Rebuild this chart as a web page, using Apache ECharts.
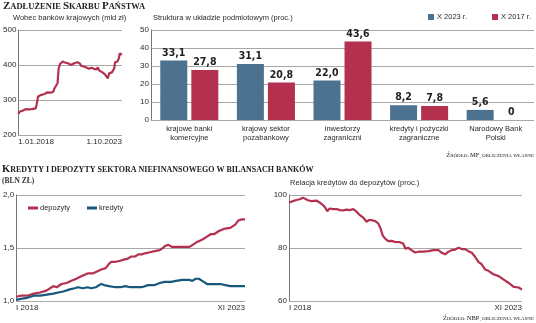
<!DOCTYPE html>
<html><head><meta charset="utf-8">
<script src="https://cdn.jsdelivr.net/npm/echarts@6/dist/echarts.min.js"></script>
<style>html,body{margin:0;padding:0;background:#fff}#c{width:536px;height:323px}</style>
</head><body><div id="c"></div>
<script>
// ---- data: top-left (Wobec banków krajowych, mld zł), x in months since Jan 2018
const debtMonths = [0,1,2.7,3.8,5.2,6.9,9,11.5,12.1,13.2,14.8,17.4,19.4,20.5,21.5,23.2,24,25.3,26.1,26.8,27.8,29.5,30.9,33,35.1,37.2,39.3,40.8,42,44.1,45.6,47,48.7,50.4,51.9,52.9,53.9,56,57.5,58.8,59.6,60.4,62.3,63.8,64.4,65.9,66.9,67.5,69];
const debtValues = [260,267,269,266,274,273,274,276,286,310,314,317,322,326,321,323,333,333,348,390,403,410,407,405,400,405,408,405,397,395,392,389,392,389,387,393,384,379,374,371,362,376,379,390,408,410,419,433,430];
const debtTickLabels = ['1.01.2018','1.10.2023'];

// ---- bar chart: Struktura w układzie podmiotowym (proc.)
const barCategories = ['krajowe banki\nkomercyjne','krajowy sektor\npozabankowy','inwestorzy\nzagraniczni','kredyty i pożyczki\nzagraniczne','Narodowy Bank\nPolski'];
const bar2023 = [33.1,31.1,22.0,8.2,5.6];
const bar2017 = [27.8,20.8,43.6,7.8,0];
const barSeriesNames = ['X 2023 r.','X 2017 r.'];

// ---- bottom-left: Kredyty i depozyty (bln zł)
const depMonths = [0,1.4,3.4,5.4,7.4,9.4,10.4,11.4,12.4,13.9,15.4,16.9,18.4,20.4,21.9,23.4,24.9,26.2,27.4,28.4,29.1,30.4,31.9,32.9,34.2,35.2,36.4,37.4,38.4,39.4,40.9,42.4,43.9,44.9,45.6,46.6,47.6,49.4,51.5,53,54,55.5,57,58.5,59.5,60.5,62,63.5,65.5,67,68,69,70];
const depValues = [1.04,1.05,1.05,1.07,1.08,1.10,1.12,1.14,1.13,1.16,1.17,1.19,1.21,1.24,1.26,1.26,1.28,1.30,1.31,1.35,1.37,1.37,1.38,1.39,1.40,1.42,1.42,1.44,1.44,1.45,1.46,1.47,1.48,1.50,1.52,1.53,1.51,1.51,1.51,1.51,1.53,1.56,1.58,1.61,1.63,1.63,1.66,1.68,1.69,1.72,1.76,1.77,1.77];
const credMonths = [0,1.4,3.4,5.4,7.4,9.4,11.4,12.9,14.4,16.4,17.9,18.9,20.4,21.9,22.9,24.4,25.4,26.1,26.9,28.4,30.4,31.9,33.4,34.9,36.4,38.4,40.4,42.4,43.9,45.4,47.4,48.9,50.9,52.9,53.9,54.9,55.9,56.9,58.4,60.4,62.5,64,65.5,67.5,70];
const credValues = [1.01,1.02,1.03,1.05,1.05,1.06,1.07,1.08,1.09,1.11,1.12,1.13,1.12,1.13,1.12,1.13,1.15,1.16,1.15,1.14,1.13,1.13,1.14,1.13,1.13,1.13,1.15,1.15,1.17,1.18,1.18,1.19,1.20,1.20,1.19,1.21,1.21,1.19,1.16,1.16,1.16,1.15,1.14,1.14,1.14];
const bottomTickLabels = ['I 2018','XI 2023'];

// ---- bottom-right: Relacja kredytów do depozytów (proc.)
const ratioMonths = [0,1.2,2.2,3.2,4.2,4.7,5.7,6.7,8.2,9.2,10.2,10.9,11.5,12.2,13.3,14.3,15.3,16.3,17.3,18.3,19.3,20.3,21.3,22.3,23.3,24,24.8,25.8,26.8,27.5,28.1,28.8,29.8,30.8,31.8,33.3,34.3,35,35.8,36.8,37.9,38.9,40.4,41.9,43.4,44.9,45.9,46.9,47.9,48.9,49.9,50.9,51.9,52.9,53.9,54.9,55.9,56.9,57.9,58.9,59.9,61.4,63,64.5,66,67.5,69,70];
const ratioValues = [97.1,97.7,98.1,98.4,99.0,98.7,98.0,97.7,97.9,97.2,96.2,95.2,93.9,94.9,94.7,94.7,94.3,94.2,94.5,94.3,94.7,93.7,92.4,91.5,89.9,90.5,90.5,90.2,89.3,87.4,84.9,83.6,82.6,82.7,82.3,82.2,81.7,79.7,80.1,79.2,78.3,78.6,78.6,78.8,79.2,79.2,78.2,77.6,78.6,79.2,79.4,80.1,79.6,79.6,78.8,78.2,76.7,74.8,73.8,71.9,71.4,70.1,69.4,68.1,66.8,65.3,65.1,64.3];

const zip = (xs, ys) => xs.map((x, i) => [x, ys[i]]);

const RED = '#b3304f';
const BLUE_BAR = '#4c7290';
const BLUE_LINE = '#17587c';
const GRID = '#a8a8a8';
const AXIS = '#777';
const TXT = '#2a2a2a';
const SANS = '"Liberation Sans Narrow","Arial Narrow","Liberation Sans",sans-serif';
const SERIF = '"Liberation Serif","DejaVu Serif",serif';

// small caps helper via rich text
function smallCaps(str) {
  let out = '', cur = null, buf = '';
  for (const ch of str) {
    const t = ch !== ch.toLowerCase() ? 'B' : 'S';
    if (t !== cur) { if (buf) out += '{' + cur + '|' + buf + '}'; buf = ''; cur = t; }
    buf += ch.toUpperCase();
  }
  if (buf) out += '{' + cur + '|' + buf + '}';
  return out;
}

const chart = echarts.init(document.getElementById('c'), null, {renderer: 'canvas'});

function valueAxisY(grid, min, max, interval, fmt) {
  return {
    type: 'value', gridIndex: grid, min, max, interval,
    axisLine: {show: true, lineStyle: {color: AXIS, width: 1}},
    axisTick: {show: false},
    splitLine: {show: true, lineStyle: {color: GRID, width: 1}},
    axisLabel: {color: TXT, fontFamily: SANS, fontSize: 8, margin: 2, formatter: fmt}
  };
}
function monthAxisX(grid, max, labels) {
  return {
    type: 'value', gridIndex: grid, min: 0, max, interval: max,
    axisLine: {show: false}, axisTick: {show: false}, splitLine: {show: false},
    axisLabel: {color: TXT, fontFamily: SANS, fontSize: 8, margin: 3,
      alignMinLabel: 'left', alignMaxLabel: 'right',
      formatter: v => v === 0 ? labels[0] : labels[1]}
  };
}
const capsTitle = (txt, left, top, big, small, bold) => ({
  text: smallCaps(txt), left, top, padding: 0,
  textStyle: {rich: {B: {fontFamily: SERIF, fontWeight: bold ? 'bold' : 'normal', fontSize: big, color: '#222'},
                     S: {fontFamily: SERIF, fontWeight: bold ? 'bold' : 'normal', fontSize: small, color: '#222'}}}
});
const plainTitle = (txt, left, top) => ({
  text: txt, left, top, padding: 0,
  textStyle: {fontFamily: SANS, fontSize: 7.5, fontWeight: 'normal', color: TXT}
});
const sourceTitle = (txt, top) => Object.assign(capsTitle(txt, null, top, 6.5, 5, false), {right: 2, left: undefined});

const option = {
  animation: false,
  backgroundColor: '#fff',
  title: [
    capsTitle('Zadłużenie Skarbu Państwa', 3, 1, 11, 8.5, true),
    plainTitle('Wobec banków krajowych (mld zł)', 13, 14),
    plainTitle('Struktura w układzie podmiotowym (proc.)', 153, 14),
    sourceTitle('Źródło: MF, obliczenia własne', 152),
    capsTitle('Kredyty i depozyty sektora niefinansowego w bilansach banków', 2, 164, 10.5, 8, true),
    {text: '{S|(BLN ZŁ)}', left: 2, top: 177, padding: 0,
      textStyle: {rich: {S: {fontFamily: SERIF, fontSize: 7.5, color: '#333'}}}},
    plainTitle('Relacja kredytów do depozytów (proc.)', 290, 179),
    sourceTitle('Źródło: NBP, obliczenia własne', 315)
  ],
  legend: [
    {data: [barSeriesNames[0]], left: 428, top: 13, padding: 0, icon: 'rect', itemWidth: 6, itemHeight: 6,
      textStyle: {fontFamily: SANS, fontSize: 7.5, color: TXT, padding: [0, 0, 0, -2]}},
    {data: [barSeriesNames[1]], left: 492, top: 13, padding: 0, icon: 'rect', itemWidth: 6, itemHeight: 6,
      textStyle: {fontFamily: SANS, fontSize: 7.5, color: TXT, padding: [0, 0, 0, -2]}},
    {data: ['depozyty', 'kredyty'], left: 28, top: 204, padding: 0, icon: 'rect', itemWidth: 10, itemHeight: 3, itemGap: 17,
      textStyle: {fontFamily: SANS, fontSize: 7.5, color: TXT, padding: [0, 0, 0, -3]}}
  ],
  grid: [
    {left: 12, top: 30, width: 110, height: 105},
    {left: 151, top: 30, right: 2, height: 90},
    {left: 12, top: 195, width: 233, height: 106},
    {left: 289, top: 195, width: 233, height: 106}
  ],
  xAxis: [
    monthAxisX(0, 69, debtTickLabels),
    {type: 'category', gridIndex: 1, data: barCategories,
      axisLine: {show: false}, axisTick: {show: false},
      axisLabel: {color: TXT, fontFamily: SANS, fontSize: 7.5, lineHeight: 9, margin: 4, interval: 0}},
    monthAxisX(2, 70, bottomTickLabels),
    monthAxisX(3, 70, bottomTickLabels)
  ],
  yAxis: [
    valueAxisY(0, 200, 500, 100),
    valueAxisY(1, 0, 50, 10),
    valueAxisY(2, 1.0, 2.0, 0.5, v => v.toFixed(1).replace('.', ',')),
    valueAxisY(3, 60, 100, 20)
  ],
  series: [
    {type: 'line', xAxisIndex: 0, yAxisIndex: 0, data: zip(debtMonths, debtValues), symbol: 'none',
      lineStyle: {color: RED, width: 2.2}, itemStyle: {color: RED}},
    {name: barSeriesNames[0], type: 'bar', xAxisIndex: 1, yAxisIndex: 1, data: bar2023, barWidth: 27, barGap: '15%',
      itemStyle: {color: BLUE_BAR},
      label: {show: true, position: 'top', distance: 2, fontFamily: '"DejaVu Sans Condensed","DejaVu Sans",sans-serif', fontWeight: 'bold', fontSize: 10.5, color: '#222',
        formatter: p => p.value === 0 ? '0' : p.value.toFixed(1).replace('.', ',')}},
    {name: barSeriesNames[1], type: 'bar', xAxisIndex: 1, yAxisIndex: 1, data: bar2017, barWidth: 27, barGap: '15%',
      itemStyle: {color: RED},
      label: {show: true, position: 'top', distance: 2, fontFamily: '"DejaVu Sans Condensed","DejaVu Sans",sans-serif', fontWeight: 'bold', fontSize: 10.5, color: '#222',
        formatter: p => p.value === 0 ? '0' : p.value.toFixed(1).replace('.', ',')}},
    {name: 'depozyty', type: 'line', xAxisIndex: 2, yAxisIndex: 2, data: zip(depMonths, depValues), symbol: 'none',
      lineStyle: {color: RED, width: 2.2}, itemStyle: {color: RED}},
    {name: 'kredyty', type: 'line', xAxisIndex: 2, yAxisIndex: 2, data: zip(credMonths, credValues), symbol: 'none',
      lineStyle: {color: BLUE_LINE, width: 2.2}, itemStyle: {color: BLUE_LINE}},
    {type: 'line', xAxisIndex: 3, yAxisIndex: 3, data: zip(ratioMonths, ratioValues), symbol: 'none',
      lineStyle: {color: RED, width: 2.2}, itemStyle: {color: RED}}
  ]
};
chart.setOption(option);
</script></body></html>
